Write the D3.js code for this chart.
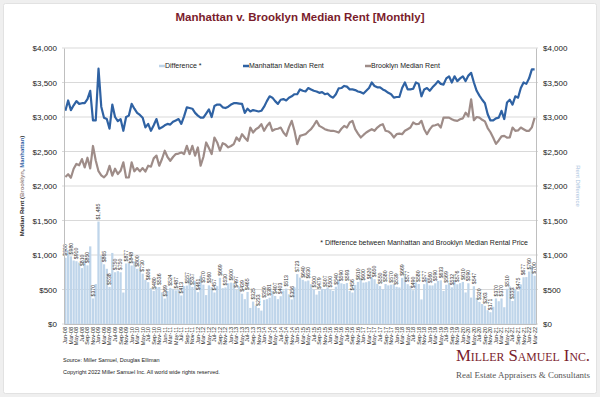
<!DOCTYPE html>
<html>
<head>
<meta charset="utf-8">
<script src="https://cdn.jsdelivr.net/npm/d3@7"></script>
<style>
  body { margin: 0; background: #efefef; }
  svg { display: block; font-family: "Liberation Sans", Arial, sans-serif; }
</style>
</head>
<body>
<svg id="chart" width="600" height="397"></svg>
<script>
// first and last month shown on the category axis
const firstMonth = new Date(2008, 0, 1);
const lastMonth = new Date(2022, 2, 1);

// median rent, Jan-08 .. Mar-22, one row per year
const manhattan = [
  3090, 3240, 3100, 3170, 3230, 3190, 3200, 3200, 3260, 3380, 2950, 2950,
  3700, 3150, 2990, 2970, 2830, 3180, 3000, 2940, 2970, 2800, 3000, 3020,
  3190, 3120, 3060, 3030, 2990, 2850, 2900, 2800, 2880, 2970, 2830, 2850,
  2880, 2900, 2890, 2930, 2950, 2970, 2900, 3010, 3140, 3130, 3120, 3060,
  3020, 2990, 2990, 3050, 3110, 3000, 3160, 3180, 3180, 3140, 3130, 3150,
  3180, 3200, 3200, 3195, 3190, 3060, 3120, 3080, 3100, 3090, 3080, 3090,
  3150, 3230, 3300, 3280, 3230, 3190, 3250, 3260, 3240, 3280, 3300, 3330,
  3330, 3400, 3380, 3370, 3420, 3400, 3380, 3370, 3350, 3360, 3330, 3340,
  3300, 3280, 3330, 3415, 3420, 3450, 3440, 3400, 3400, 3390, 3370, 3360,
  3340, 3380, 3420, 3500, 3450, 3430, 3430, 3400, 3380, 3350, 3330, 3280,
  3290, 3290, 3420, 3500, 3400, 3400, 3410, 3500, 3480, 3300, 3400, 3420,
  3380, 3430, 3470, 3520, 3480, 3470, 3560, 3590, 3500, 3590, 3520, 3560,
  3590, 3520, 3600, 3640, 3500, 3380, 3310, 3250, 3200, 3040, 2950, 2950,
  2980, 2990, 3090, 2970, 3210, 3250, 3180, 3300, 3280, 3420, 3500, 3480,
  3560, 3690, 3690
];
const brooklyn = [
  2130, 2170, 2120, 2250, 2320, 2300, 2390, 2270, 2410, 2255, 2580, 2370,
  2215, 2155, 2125, 2170, 2292, 2150, 2250, 2174, 2220, 2344, 2123, 2125,
  2342, 2213, 2260, 2212, 2260, 2209, 2294, 2280, 2400, 2440, 2294, 2391,
  2511, 2420, 2366, 2420, 2463, 2470, 2487, 2463, 2583, 2463, 2583, 2439,
  2559, 2294, 2420, 2631, 2550, 2463, 2703, 2631, 2511, 2620, 2600, 2560,
  2580, 2607, 2703, 2655, 2751, 2700, 2655, 2847, 2775, 2823, 2847, 2896,
  2800, 2870, 2919, 2800, 2823, 2830, 2847, 2775, 2727, 2850, 2944, 2800,
  2607, 2727, 2740, 2751, 2790, 2823, 2880, 2944, 2871, 2850, 2823, 2810,
  2800, 2800, 2790, 2775, 2830, 2871, 2847, 2920, 2944, 2823, 2760, 2703,
  2740, 2775, 2800, 2823, 2800, 2847, 2880, 2896, 2800, 2790, 2760, 2703,
  2751, 2760, 2751, 2800, 2823, 2847, 2920, 2896, 2900, 2944, 2823, 2751,
  2820, 2871, 2880, 2896, 2847, 2991, 2991, 2991, 2968, 2950, 2944, 2968,
  2980, 3063, 3010, 3257, 2953, 3000, 2990, 2960, 2937, 2840, 2779, 2700,
  2610, 2660, 2720, 2727, 2700, 2705, 2847, 2800, 2805, 2847, 2823, 2800,
  2800, 2850, 2990
];

const rentTicks = [0, 500, 1000, 1500, 2000, 2500, 3000, 3500, 4000];

const legendItems = [
  { label: "Difference *", color: "#bcd3e8" },
  { label: "Manhattan Median Rent", color: "#2f62a3" },
  { label: "Brooklyn Median Rent", color: "#9e8c88" }
];

const months = d3.timeMonth.range(firstMonth, d3.timeMonth.offset(lastMonth, 1));
const fmtMonth = d3.timeFormat("%b-%y");
const fmtMoney = d3.format("$,.0f");

// one record per month; the bar is the gap between the two rents
const rows = months.map((m, i) => ({
  month: m,
  manhattan: manhattan[i],
  brooklyn: brooklyn[i],
  diff: manhattan[i] - brooklyn[i]
}));

const svg = d3.select("#chart");
const W = 600, H = 397;
const margin = { top: 48, right: 64, bottom: 73, left: 64 };
const width = W - margin.left - margin.right;
const height = H - margin.top - margin.bottom;

// card
svg.append("rect")
  .attr("x", 3.5).attr("y", 3.5)
  .attr("width", W - 7).attr("height", H - 7)
  .attr("rx", 2)
  .attr("fill", "#ffffff")
  .attr("stroke", "#e2e2e2");

svg.append("text")
  .attr("x", 300).attr("y", 21)
  .attr("text-anchor", "middle")
  .attr("font-size", 11.5)
  .attr("font-weight", "bold")
  .attr("fill", "#7a1c2c")
  .text("Manhattan v. Brooklyn Median Rent [Monthly]");

const g = svg.append("g")
  .attr("transform", "translate(" + margin.left + "," + margin.top + ")");

const x = d3.scaleBand()
  .domain(months.map(fmtMonth))
  .range([0, width])
  .paddingInner(0.18)
  .paddingOuter(0.09);

const y = d3.scaleLinear()
  .domain([0, 4000])
  .range([height, 0]);

// gridlines
g.append("g")
  .selectAll("line")
  .data(rentTicks)
  .join("line")
  .attr("x1", -2).attr("x2", width + 2)
  .attr("y1", d => y(d)).attr("y2", d => y(d))
  .attr("stroke", "#d9d9d9")
  .attr("stroke-width", 1);

// difference bars
g.append("g")
  .selectAll("rect")
  .data(rows)
  .join("rect")
  .attr("x", d => x(fmtMonth(d.month)))
  .attr("y", d => y(d.diff))
  .attr("width", x.bandwidth())
  .attr("height", d => height - y(d.diff))
  .attr("fill", "#bfd5ea");

// bar value labels, every other month
g.append("g")
  .selectAll("text")
  .data(rows.filter((d, i) => i % 2 === 0))
  .join("text")
  .attr("transform", d => "translate(" + (x(fmtMonth(d.month)) + x.bandwidth() / 2 + 1.8) + "," + (y(d.diff) - 2) + ") rotate(-90)")
  .attr("font-size", 5.2)
  .attr("fill", "#333")
  .text(d => fmtMoney(d.diff));

const line = key => d3.line()
  .x(d => x(fmtMonth(d.month)) + x.bandwidth() / 2)
  .y(d => y(d[key]));

g.append("path")
  .datum(rows)
  .attr("d", line("brooklyn"))
  .attr("fill", "none")
  .attr("stroke", "#9e8c88")
  .attr("stroke-width", 2.2)
  .attr("stroke-linejoin", "round");

g.append("path")
  .datum(rows)
  .attr("d", line("manhattan"))
  .attr("fill", "none")
  .attr("stroke", "#2f62a3")
  .attr("stroke-width", 2.2)
  .attr("stroke-linejoin", "round");

// axes
const left = g.append("g")
  .call(d3.axisLeft(y).tickValues(rentTicks).tickFormat(fmtMoney).tickSize(0).tickPadding(7));
const right = g.append("g")
  .attr("transform", "translate(" + width + ",0)")
  .call(d3.axisRight(y).tickValues(rentTicks).tickFormat(fmtMoney).tickSize(0).tickPadding(7));
[left, right].forEach(a => {
  a.select(".domain").attr("stroke", "#bfbfbf");
  a.selectAll("text").attr("font-size", 8).attr("fill", "#222").attr("font-family", "Liberation Sans, Arial, sans-serif");
});

const bottom = g.append("g")
  .attr("transform", "translate(0," + height + ")")
  .call(d3.axisBottom(x)
    .tickValues(months.filter((m, i) => i % 2 === 0).map(fmtMonth))
    .tickSize(0).tickPadding(3));
bottom.select(".domain").attr("stroke", "#bfbfbf");
bottom.selectAll("text")
  .attr("font-size", 5.5)
  .attr("fill", "#222")
  .attr("font-family", "Liberation Sans, Arial, sans-serif")
  .attr("text-anchor", "end")
  .attr("dy", "0.35em")
  .attr("transform", "rotate(-90)")
  .attr("x", -3).attr("y", 0);

// legend
const legend = g.append("g").attr("transform", "translate(0,18)");
const legendX = [95, 179, 301];
legendItems.forEach((d, i) => {
  const it = legend.append("g").attr("transform", "translate(" + legendX[i] + ",0)");
  it.append("line").attr("x1", 0).attr("x2", 6).attr("stroke", d.color).attr("stroke-width", 2.5);
  it.append("text").attr("x", 6).attr("dy", "0.35em").attr("font-size", 7).attr("fill", "#222").text(d.label);
});

// note
g.append("text")
  .attr("x", width - 8).attr("y", 197)
  .attr("text-anchor", "end")
  .attr("font-size", 7)
  .attr("fill", "#222")
  .text("* Difference between Manhattan and Brooklyn Median Rental Price");

// axis titles
const yTitle = svg.append("text")
  .attr("transform", "translate(24," + (margin.top + height / 2) + ") rotate(-90)")
  .attr("text-anchor", "middle")
  .attr("font-size", 6)
  .attr("font-weight", "bold")
  .attr("fill", "#222");
yTitle.append("tspan").text("Median Rent (");
yTitle.append("tspan").attr("fill", "#9e8c88").text("Brooklyn");
yTitle.append("tspan").text(", ");
yTitle.append("tspan").attr("fill", "#2f62a3").text("Manhattan");
yTitle.append("tspan").text(")");

svg.append("text")
  .attr("transform", "translate(576," + (margin.top + height / 2) + ") rotate(90)")
  .attr("text-anchor", "middle")
  .attr("font-size", 6)
  .attr("fill", "#a9c4de")
  .text("Rent Difference");

// footer
svg.append("text").attr("x", 63).attr("y", 362).attr("font-size", 5.5).attr("fill", "#222")
  .text("Source: Miller Samuel, Douglas Elliman");
svg.append("text").attr("x", 63).attr("y", 374).attr("font-size", 5.5).attr("fill", "#222")
  .text("Copyright 2022 Miller Samuel Inc.  All world wide rights reserved.");

svg.append("text").attr("x", 456).attr("y", 361)
  .attr("font-family", "Liberation Serif, Times New Roman, serif")
  .attr("font-size", 17)
  .attr("font-variant", "small-caps")
  .attr("textLength", 134)
  .attr("lengthAdjust", "spacingAndGlyphs")
  .attr("fill", "#7a1c2c")
  .text("Miller Samuel Inc.");
svg.append("text").attr("x", 456).attr("y", 378)
  .attr("font-family", "Liberation Serif, Times New Roman, serif")
  .attr("font-size", 9)
  .attr("textLength", 134)
  .attr("lengthAdjust", "spacingAndGlyphs")
  .attr("fill", "#555")
  .text("Real Estate Appraisers & Consultants");
</script>
</body>
</html>
